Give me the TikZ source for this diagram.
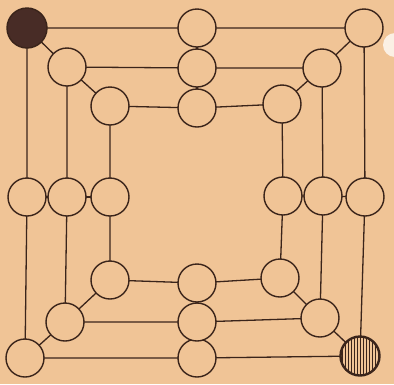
\documentclass[tikz,border=0pt]{standalone}
\usepackage{tikz}
\usetikzlibrary{patterns}

\definecolor{board}{RGB}{240,196,150}
\definecolor{ink}{RGB}{58,36,26}
\definecolor{stone}{RGB}{72,44,38}

\tikzset{
  spot/.style={circle, draw=ink, fill=board, line width=1.4pt, minimum size=38pt, inner sep=0pt},
  blackstone/.style={spot, fill=stone, minimum size=40pt},
  hatchstone/.style={spot, minimum size=40pt, pattern=vertical lines, pattern color=ink},
  link/.style={draw=ink, line width=1.3pt}
}

\begin{document}
\begin{tikzpicture}[x=1pt, y=-1pt]

	% board background
	\fill[board] (0,0) rectangle (394,384);
	\useasboundingbox (0,0) rectangle (394,384);
	\clip (0,0) rectangle (394,384);

	% points: 1 TL, 2 TM, 3 TR, 4 ML, 5 MR, 6 BL, 7 BM, 8 BR
	\foreach \n/\x/\y in {o1/27/28, o2/197/28, o3/364/28, o4/27/197, o5/365/197, o6/25/358, o7/197/358, o8/360/356,
	                     m1/67/67, m2/197/68, m3/322/68, m4/67/197, m5/323/196, m6/65/322, m7/197/322, m8/320/318,
	                     i1/110/106, i2/197/108, i3/282/104, i4/110/197, i5/283/196, i6/110/280, i7/197/283, i8/280/278}
		\coordinate (\n) at (\x,\y);

	% squares
	\foreach \s in {o, m, i}
		\draw[link] (\s1) -- (\s2) -- (\s3) -- (\s5) -- (\s8) -- (\s7) -- (\s6) -- (\s4) -- cycle;

	% cross lines and diagonals
	\foreach \k in {1,...,8}
		\draw[link] (o\k) -- (m\k) -- (i\k);

	% circles
	\foreach \s in {o, m, i}
		\foreach \k in {1,...,8}
			\node[spot] (p\s\k) at (\s\k) {};
	\node[blackstone] (start) at (o1) {};
	\node[hatchstone] (goal) at (o8) {};

	% pale stone at the edge
	\fill[white, opacity=0.75] (395,45) circle (12);

\end{tikzpicture}
\end{document}
